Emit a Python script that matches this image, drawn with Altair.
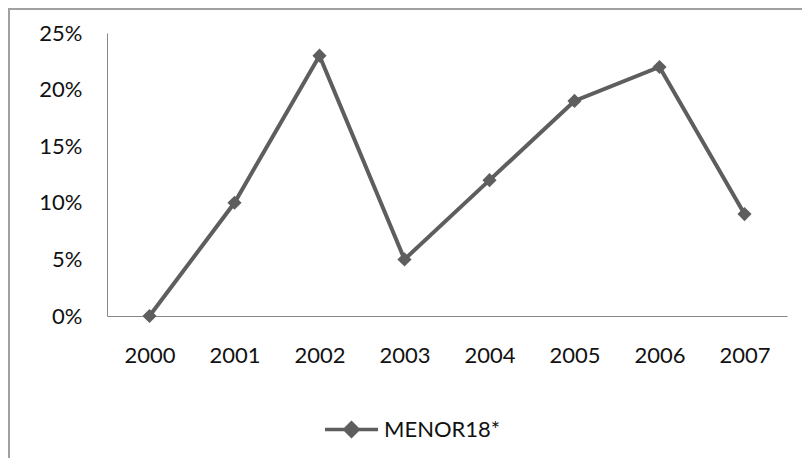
import altair as alt
import pandas as pd

years = ["2000", "2001", "2002", "2003", "2004", "2005", "2006", "2007"]
values = [0.00, 0.10, 0.23, 0.05, 0.12, 0.19, 0.22, 0.09]
series_name = "MENOR18*"

df = pd.DataFrame({"year": years, "value": values, "series": [series_name] * len(years)})

LINE = "#5e5e5e"
FONT = "Lato"

x = alt.X("year:O", title=None, sort=years,
          scale=alt.Scale(type="point", padding=0.5),
          axis=alt.Axis(labelAngle=0, ticks=False, labelPadding=29, domainColor="#888888"))
y = alt.Y("value:Q", title=None,
          scale=alt.Scale(domain=[0, 0.25], nice=False),
          axis=alt.Axis(format=".0%", values=[0, 0.05, 0.10, 0.15, 0.20, 0.25], ticks=False,
                        grid=False, labelPadding=25, domainColor="#888888"))
color = alt.Color("series:N", title=None,
                  scale=alt.Scale(domain=[series_name], range=[LINE]),
                  legend=alt.Legend(orient="none", legendX=216, legendY=368,
                                    symbolType="M-1,0L1,0M-0.25,0L0,-0.25L0.25,0L0,0.25Z",
                                    symbolSize=2809, symbolStrokeWidth=3.5,
                                    symbolFillColor=LINE, symbolStrokeColor=LINE,
                                    labelFontSize=22, labelFont=FONT, labelColor="#111111",
                                    labelOffset=4))

base = alt.Chart(df)
line = base.mark_line(strokeWidth=4).encode(x=x, y=y, color=color)
pts = base.mark_point(shape="diamond", filled=True, size=200, opacity=1).encode(x=x, y=y, color=color)

frame = alt.Chart(df).mark_rule(color="#a0a0a0", strokeWidth=2, clip=False).encode(
    x=alt.value(-98), x2=alt.value(760), y=alt.value(-24))
frame2 = alt.Chart(df).mark_rule(color="#a0a0a0", strokeWidth=2, clip=False).encode(
    x=alt.value(-98), y=alt.value(-25), y2=alt.value(425))

chart = alt.layer(frame, frame2, line, pts).properties(
    width=680, height=283,
    padding={"left": 99, "top": 25, "right": 15, "bottom": 145},
    autosize=alt.AutoSizeParams(type="none"),
    background="white",
).configure_view(stroke=None).configure_axis(
    labelFont=FONT, labelFontSize=22, labelColor="#111111"
)

chart.save("out.html", embed_options={"renderer": "svg", "actions": False})
